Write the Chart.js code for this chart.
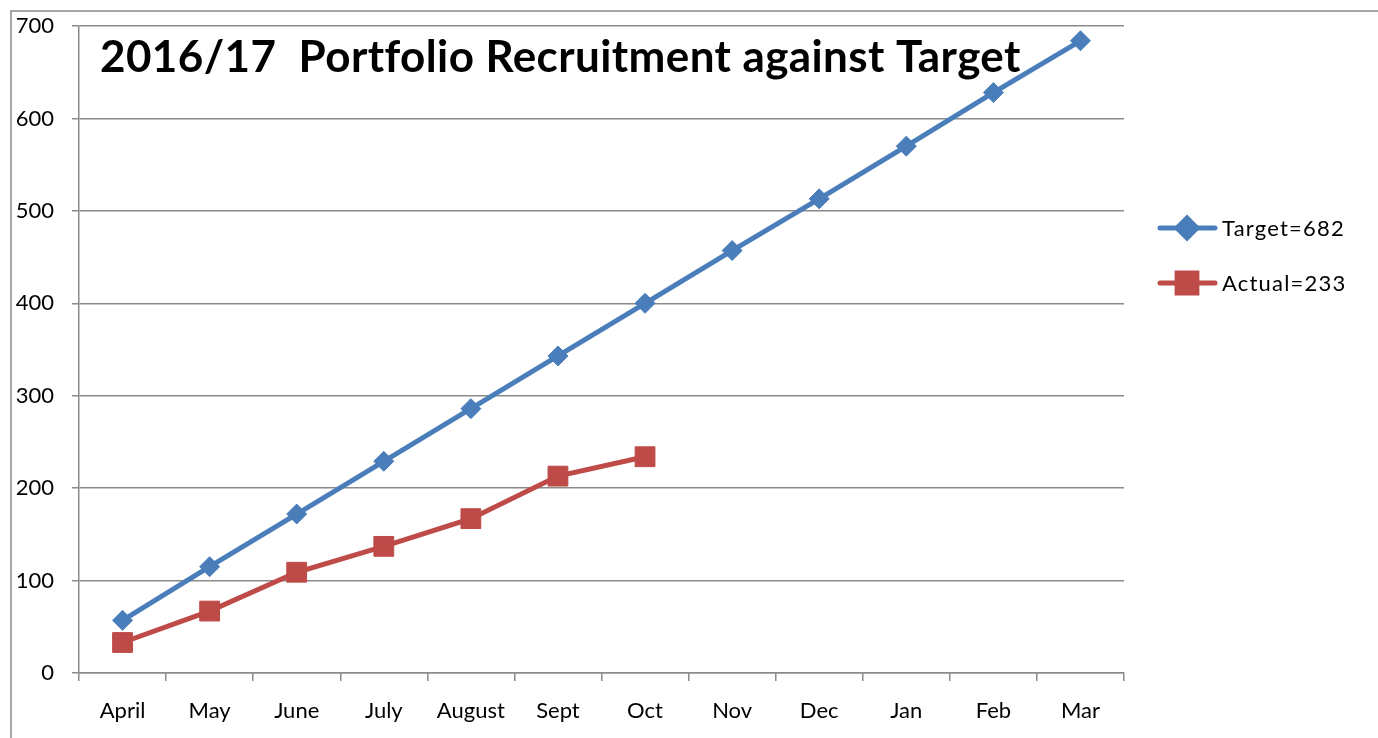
<!DOCTYPE html>
<html>
<head>
<meta charset="utf-8">
<script src="https://cdn.jsdelivr.net/npm/chart.js@4"></script>
<style>
  html, body { margin: 0; padding: 0; background: #fff; }
  #wrap { position: relative; width: 1378px; height: 738px; }
</style>
</head>
<body>
<div id="wrap"><canvas id="myChart" width="1378" height="738"></canvas></div>
<script>
// chart data
const months = ['April', 'May', 'June', 'July', 'August', 'Sept', 'Oct', 'Nov', 'Dec', 'Jan', 'Feb', 'Mar'];
const target = [57, 115, 172, 229, 286, 343, 400, 457, 513, 570, 628, 684];
const actual = [33, 67, 109, 137, 167, 213, 234];
const yTicks = [0, 100, 200, 300, 400, 500, 600, 700];
const chartTitle = '2016/17  Portfolio Recruitment against Target';
const seriesNames = ['Target=682', 'Actual=233'];

const blue = '#4A7EBB';
const red = '#BE4B48';
const grey = '#8A8A8A';
const fontFamily = 'Lato, "Liberation Sans", sans-serif';

// frame, title and legend drawn on the canvas
const extras = {
  id: 'extras',
  beforeDraw(chart) {
    const ctx = chart.ctx;
    ctx.save();
    ctx.strokeStyle = grey;
    ctx.lineWidth = 1.5;
    ctx.beginPath();
    ctx.moveTo(11, 738);
    ctx.lineTo(11, 11);
    ctx.lineTo(1378, 11);
    ctx.stroke();
    ctx.restore();
  },
  afterDraw(chart) {
    const ctx = chart.ctx;
    ctx.save();
    ctx.fillStyle = '#000';
    ctx.font = 'bold 44px ' + fontFamily;
    ctx.letterSpacing = '0.4px';
    ctx.textBaseline = 'alphabetic';
    ctx.fillText(chartTitle, 100, 72);

    const items = [
      { y: 228, color: blue, style: 'rectRot', r: 10 },
      { y: 283, color: red, style: 'rect', r: 14 }
    ];
    items.forEach((it, i) => {
      ctx.strokeStyle = it.color;
      ctx.lineWidth = 5;
      ctx.lineCap = 'round';
      ctx.beginPath();
      ctx.moveTo(1160, it.y);
      ctx.lineTo(1215, it.y);
      ctx.stroke();
      ctx.fillStyle = it.color;
      ctx.beginPath();
      Chart.helpers.drawPoint(ctx, { pointStyle: it.style, rotation: 0, borderWidth: 1, radius: it.r }, 1187, it.y);
      ctx.fill();
      ctx.fillStyle = '#000';
      ctx.font = '22px ' + fontFamily;
      ctx.letterSpacing = '1.2px';
      ctx.textBaseline = 'middle';
      ctx.fillText(seriesNames[i], 1222, it.y + 1);
    });
    ctx.restore();
  }
};

const ctx = document.getElementById('myChart').getContext('2d');
const myChart = new Chart(ctx, {
  type: 'line',
  data: {
    labels: months,
    datasets: [{
      label: seriesNames[0],
      data: target,
      borderColor: blue,
      backgroundColor: blue,
      borderWidth: 5,
      pointStyle: 'rectRot',
      pointRadius: 10,
      pointBorderWidth: 1,
      tension: 0
    }, {
      label: seriesNames[1],
      data: actual,
      borderColor: red,
      backgroundColor: red,
      borderWidth: 5,
      pointStyle: 'rect',
      pointRadius: 14,
      pointBorderWidth: 1,
      tension: 0
    }]
  },
  options: {
    responsive: false,
    animation: false,
    layout: { padding: { left: 0, right: 254, top: 26, bottom: 0 } },
    plugins: {
      legend: { display: false },
      tooltip: { enabled: false }
    },
    scales: {
      x: {
        offset: true,
        grid: { offset: true, drawOnChartArea: false, drawTicks: true, tickLength: 8, color: grey, lineWidth: 1.5 },
        border: { display: true, color: grey, width: 1.5 },
        ticks: { color: '#000', font: { family: fontFamily, size: 22 }, padding: 17, maxRotation: 0, autoSkip: false },
        afterFit(scale) { scale.height = 65; scale.paddingLeft = 0; scale.paddingRight = 0; }
      },
      y: {
        min: 0,
        max: 700,
        afterBuildTicks(scale) { scale.ticks = yTicks.map(v => ({ value: v })); },
        grid: { color: grey, lineWidth: 1.5, tickLength: 7 },
        border: { display: true, color: grey, width: 1.5 },
        ticks: { color: '#000', font: { family: fontFamily, size: 22 }, padding: 18 },
        afterFit(scale) { scale.width = 79; scale.paddingTop = 0; scale.paddingBottom = 0; }
      }
    }
  },
  plugins: [extras]
});
</script>
</body>
</html>
